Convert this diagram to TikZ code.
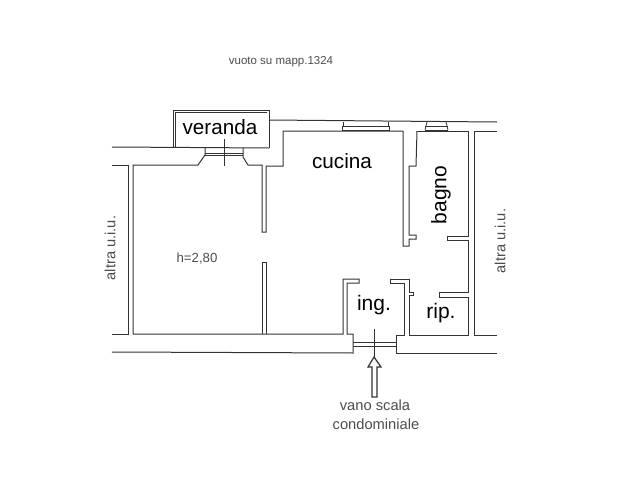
\documentclass[tikz,border=0pt]{standalone}
\usepackage{fontspec}
\setmainfont{Liberation Sans}
\tikzset{
  wall/.style={line width=1pt,black!80},
  thin wall/.style={line width=0.8pt,black!80},
  big label/.style={inner sep=0pt,font=\fontsize{20.7}{24}\selectfont},
  small label/.style={inner sep=0pt,black!70,font=\fontsize{14.7}{17}\selectfont}
}

\begin{document}
\begin{tikzpicture}[x=1pt,y=-1pt]

\useasboundingbox (0,0) rectangle (619,493);

% veranda
\draw[wall] (173,148) -- (173,110) -- (269,110) -- (269,148);
\draw[thin wall] (175,148) -- (175,112) -- (267,112);
\draw[wall] (112,147) -- (269,148);

% outer wall
\draw[wall] (269,120) -- (497,122);
\draw[wall] (112,165) -- (128,165) -- (128,334) -- (112,334);
\draw[wall] (133,334) -- (133,165) -- (198,165) -- (205,155) -- (205,148);
\draw[wall] (243,148) -- (243,157) -- (248,165) -- (262,165) -- (262,232) -- (266,232) -- (266,166) -- (283,166) -- (283,131) -- (403,131);
\draw[wall] (417,131) -- (468,131) -- (468,236) -- (447,236) -- (447,240) -- (468,240) -- (468,292) -- (439,292) -- (439,297) -- (468,297) -- (468,335) -- (409,335);
\draw[wall] (497,131) -- (474,131) -- (474,335) -- (497,335);
\draw[wall] (112,352) -- (353,353) -- (353,334) -- (347,334) -- (347,283) -- (359,283) -- (359,279) -- (343,279) -- (343,334) -- (133,334);
\draw[wall] (497,353) -- (396,353) -- (396,335) -- (404,335) -- (404,283) -- (390,283) -- (390,279) -- (409,279) -- (409,292) -- (413,292) -- (413,295) -- (409,295) -- (409,335);

% partitions
\draw[wall] (262,334) -- (262,262) -- (266,262) -- (266,334);
\draw[wall] (403,131) -- (403,246) -- (409,246) -- (409,239) -- (416,239) -- (416,235) -- (409,235) -- (409,166) -- (416,166) -- (417,131);

% windows and door
\foreach \y in {153,155}
    \draw[thin wall] (205,\y) -- (243,\y);
\foreach \y in {126,130}
    \draw[thin wall] (342,\y) -- (389,\y);
\foreach \y in {126,130}
    \draw[thin wall] (425,\y) -- (448,\y);
\draw[thin wall] (343,122) -- (343,126) (388,122) -- (388,126) (342,126) -- (342,131) (389,126) -- (389,131);
\draw[thin wall] (427,122) -- (425,130) (446,122) -- (448,130);
\foreach \y in {342,346}
    \draw[thin wall] (353,\y) -- (396,\y);

% axis ticks
\draw[thin wall] (224,139) -- (224,166);
\draw[thin wall] (374,329) -- (374,357);

% arrow
\coordinate (tip) at (374,357);
\draw[wall,line width=1.2pt] (372,397) -- (372,367) -- (368,367) -- (tip) -- (381,367) -- (377,367) -- (377,397) -- cycle;

% labels
\node[big label] (veranda) at (220,127) {veranda};
\node[big label] (cucina) at (342,161) {cucina};
\node[big label,rotate=90,font=\fontsize{21}{24}\selectfont] (bagno) at (441,195) {bagno};
\node[big label,font=\fontsize{21}{24}\selectfont] (ing) at (374,305) {ing.};
\node[big label,font=\fontsize{21}{24}\selectfont] (rip) at (441,313) {rip.};
\node[small label,font=\fontsize{13.2}{16}\selectfont] (height) at (197,259) {h=2,80};
\node[small label,font=\fontsize{11.5}{14}\selectfont] (vuoto) at (281,62) {vuoto su mapp.1324};
\node[small label,rotate=90] (altraleft) at (110,248) {altra u.i.u.};
\node[small label,rotate=90] (altraright) at (500,241) {altra u.i.u.};
\node[small label] (vano) at (375,405) {vano scala};
\node[small label] (condominiale) at (376,424) {condominiale};

\end{tikzpicture}
\end{document}
